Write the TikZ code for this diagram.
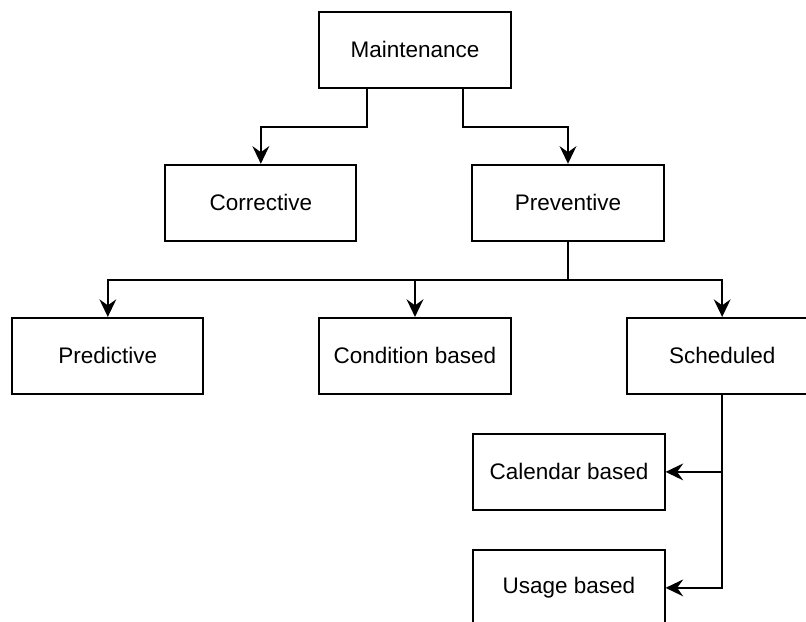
\documentclass[tikz,border=0pt]{standalone}
\usepackage{fontspec}
\setmainfont{Liberation Sans}
\usetikzlibrary{arrows.meta, positioning, calc}

\begin{document}
\begin{tikzpicture}[
  block/.style={rectangle, draw, line width=1.4pt, minimum height=1.9cm,
    minimum width=4.78cm, align=center, font=\fontsize{16}{19}\selectfont},
  arr/.style={-{Stealth[length=4.4mm, width=4.2mm, inset=1.5mm]}, line width=1.4pt},
  node distance=1.88cm and 2.85cm
]
\useasboundingbox (-10.375,1.24) rectangle (9.775,-14.285);
\clip (-10.375,1.24) rectangle (9.775,-14.285);

% Root
\node[block] (main) {Maintenance};

% Second row
\node[block, below=of main, xshift=3.825cm] (prev) {Preventive};
\node[block, left=of prev] (corr) {Corrective};

% Third row
\node[block, below=of prev, xshift=-3.825cm] (cond) {Condition based};
\node[block, left=of cond] (pred) {Predictive};
\node[block, right=of cond] (sched) {Scheduled};

% Under scheduled
\node[block, below=0.95cm of sched, xshift=-3.83cm] (cal) {Calendar based};
\node[block, below=0.95cm of cal] (usage) {Usage based};

% Arrows
\draw[arr] ($(main.south west)!0.25!(main.south east)$) -- ++(0,-0.95) -| (corr.north);
\draw[arr] ($(main.south west)!0.75!(main.south east)$) -- ++(0,-0.95) -| (prev.north);
\draw[arr] (prev.south) -- ++(0,-0.95) -| (pred.north);
\draw[arr] (prev.south) -- ++(0,-0.95) -| (cond.north);
\draw[arr] (prev.south) -- ++(0,-0.95) -| (sched.north);
\draw[arr] (sched.south) |- (cal.east);
\draw[arr] (sched.south) |- (usage.east);

\end{tikzpicture}
\end{document}
